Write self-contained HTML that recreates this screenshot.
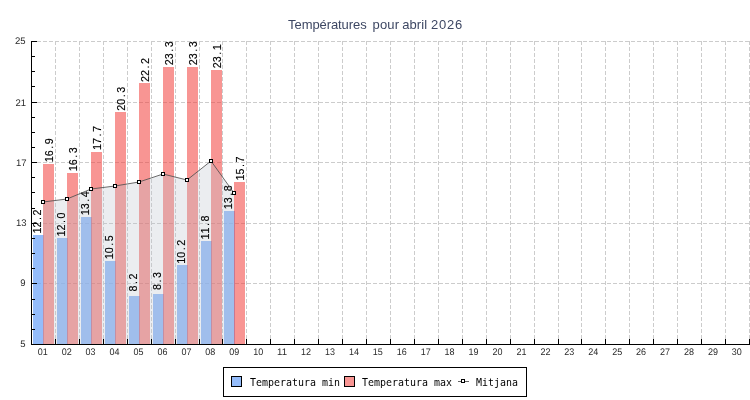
<!DOCTYPE html>
<html lang="ca"><head><meta charset="utf-8"><title>Températures pour abril 2026</title>
<style>html,body{margin:0;padding:0;background:#fff;overflow:hidden}svg{display:block}.t{font-family:"Liberation Sans",sans-serif;font-size:13px;fill:#3d4763}.ax{font-family:"Liberation Sans",sans-serif;font-size:9.5px;fill:#2a2a2a;text-rendering:geometricPrecision}.n{font-family:"Liberation Sans",sans-serif;font-size:11.3px;fill:#000;stroke:#000;stroke-width:0.15px}.m{font-family:"DejaVu Sans Mono","Liberation Mono",monospace;font-size:11px;fill:#000}</style></head><body>
<svg width="750" height="400" viewBox="0 0 750 400">
<rect width="750" height="400" fill="#fff"/>
<text class="t" x="288.1" y="29.3" dx="0.000 -0.093 -0.093 -0.093 -0.093 -0.093 -0.093 -0.093 -0.093 -0.093 -0.093 -0.093 0.000 2.275 0.170 0.170 0.170 0.000 -0.525 0.090 0.090 0.090 0.090 0.000 0.275 0.773 0.773 0.773">Températures pour abril 2026</text>
<g stroke="#cccccc" stroke-width="1" stroke-dasharray="4 2" shape-rendering="crispEdges" fill="none">
<line x1="31" y1="283.5" x2="750" y2="283.5"/>
<line x1="31" y1="223.5" x2="750" y2="223.5"/>
<line x1="31" y1="162.5" x2="750" y2="162.5"/>
<line x1="31" y1="102.5" x2="750" y2="102.5"/>
<line x1="31" y1="41.5" x2="750" y2="41.5"/>
<line x1="55.5" y1="41" x2="55.5" y2="344"/>
<line x1="79.5" y1="41" x2="79.5" y2="344"/>
<line x1="103.5" y1="41" x2="103.5" y2="344"/>
<line x1="127.5" y1="41" x2="127.5" y2="344"/>
<line x1="151.5" y1="41" x2="151.5" y2="344"/>
<line x1="175.5" y1="41" x2="175.5" y2="344"/>
<line x1="199.5" y1="41" x2="199.5" y2="344"/>
<line x1="222.5" y1="41" x2="222.5" y2="344"/>
<line x1="246.5" y1="41" x2="246.5" y2="344"/>
<line x1="270.5" y1="41" x2="270.5" y2="344"/>
<line x1="294.5" y1="41" x2="294.5" y2="344"/>
<line x1="318.5" y1="41" x2="318.5" y2="344"/>
<line x1="342.5" y1="41" x2="342.5" y2="344"/>
<line x1="366.5" y1="41" x2="366.5" y2="344"/>
<line x1="390.5" y1="41" x2="390.5" y2="344"/>
<line x1="414.5" y1="41" x2="414.5" y2="344"/>
<line x1="438.5" y1="41" x2="438.5" y2="344"/>
<line x1="462.5" y1="41" x2="462.5" y2="344"/>
<line x1="486.5" y1="41" x2="486.5" y2="344"/>
<line x1="510.5" y1="41" x2="510.5" y2="344"/>
<line x1="534.5" y1="41" x2="534.5" y2="344"/>
<line x1="558.5" y1="41" x2="558.5" y2="344"/>
<line x1="581.5" y1="41" x2="581.5" y2="344"/>
<line x1="605.5" y1="41" x2="605.5" y2="344"/>
<line x1="629.5" y1="41" x2="629.5" y2="344"/>
<line x1="653.5" y1="41" x2="653.5" y2="344"/>
<line x1="677.5" y1="41" x2="677.5" y2="344"/>
<line x1="701.5" y1="41" x2="701.5" y2="344"/>
<line x1="725.5" y1="41" x2="725.5" y2="344"/>
<line x1="749.5" y1="41" x2="749.5" y2="344"/>
</g>
<g shape-rendering="crispEdges">
<rect x="33" y="234.92" width="11" height="109.08" fill="#70A6F8" fill-opacity="0.75"/>
<rect x="43" y="163.72" width="11" height="180.28" fill="#F23E3B" fill-opacity="0.55"/>
<rect x="57" y="237.95" width="11" height="106.05" fill="#70A6F8" fill-opacity="0.75"/>
<rect x="67" y="172.80" width="11" height="171.20" fill="#F23E3B" fill-opacity="0.55"/>
<rect x="81" y="216.74" width="11" height="127.26" fill="#70A6F8" fill-opacity="0.75"/>
<rect x="91" y="151.59" width="11" height="192.41" fill="#F23E3B" fill-opacity="0.55"/>
<rect x="105" y="260.68" width="11" height="83.32" fill="#70A6F8" fill-opacity="0.75"/>
<rect x="115" y="112.20" width="11" height="231.80" fill="#F23E3B" fill-opacity="0.55"/>
<rect x="129" y="295.52" width="11" height="48.48" fill="#70A6F8" fill-opacity="0.75"/>
<rect x="139" y="83.42" width="11" height="260.58" fill="#F23E3B" fill-opacity="0.55"/>
<rect x="153" y="294.00" width="11" height="50.00" fill="#70A6F8" fill-opacity="0.75"/>
<rect x="163" y="66.75" width="11" height="277.25" fill="#F23E3B" fill-opacity="0.55"/>
<rect x="177" y="265.22" width="11" height="78.78" fill="#70A6F8" fill-opacity="0.75"/>
<rect x="187" y="66.75" width="11" height="277.25" fill="#F23E3B" fill-opacity="0.55"/>
<rect x="201" y="240.98" width="11" height="103.02" fill="#70A6F8" fill-opacity="0.75"/>
<rect x="211" y="69.78" width="11" height="274.22" fill="#F23E3B" fill-opacity="0.55"/>
<rect x="224" y="210.68" width="11" height="133.32" fill="#70A6F8" fill-opacity="0.75"/>
<rect x="234" y="181.90" width="11" height="162.10" fill="#F23E3B" fill-opacity="0.55"/>
</g>
<polygon points="43,344 43,202 67,199 91,189 115,186 139,182 163,174 187,180 211,161 234,193 234,344" fill="#BCC3CD" fill-opacity="0.3"/>
<text class="n" transform="translate(41.4,233.4) rotate(-90) scale(0.95,1)" x="0.02 6.33 14.22 18.96">12.2</text>
<text class="n" transform="translate(53.0,162.2) rotate(-90) scale(0.95,1)" x="0.02 6.33 14.22 18.96">16.9</text>
<text class="n" transform="translate(65.4,236.4) rotate(-90) scale(0.95,1)" x="0.02 6.33 14.22 18.96">12.0</text>
<text class="n" transform="translate(77.0,171.3) rotate(-90) scale(0.95,1)" x="0.02 6.33 14.22 18.96">16.3</text>
<text class="n" transform="translate(89.4,215.2) rotate(-90) scale(0.95,1)" x="0.02 6.33 14.22 18.96">13.4</text>
<text class="n" transform="translate(101.0,150.1) rotate(-90) scale(0.95,1)" x="0.02 6.33 14.22 18.96">17.7</text>
<text class="n" transform="translate(113.4,259.2) rotate(-90) scale(0.95,1)" x="0.02 6.33 14.22 18.96">10.5</text>
<text class="n" transform="translate(125.0,110.7) rotate(-90) scale(0.95,1)" x="0.02 6.33 14.22 18.96">20.3</text>
<text class="n" transform="translate(137.4,291.5) rotate(-90) scale(0.95,1)" x="0.02 7.90 12.65">8.2</text>
<text class="n" transform="translate(149.0,81.9) rotate(-90) scale(0.95,1)" x="0.02 6.33 14.22 18.96">22.2</text>
<text class="n" transform="translate(161.4,290.0) rotate(-90) scale(0.95,1)" x="0.02 7.90 12.65">8.3</text>
<text class="n" transform="translate(173.0,65.3) rotate(-90) scale(0.95,1)" x="0.02 6.33 14.22 18.96">23.3</text>
<text class="n" transform="translate(185.4,263.7) rotate(-90) scale(0.95,1)" x="0.02 6.33 14.22 18.96">10.2</text>
<text class="n" transform="translate(197.0,65.3) rotate(-90) scale(0.95,1)" x="0.02 6.33 14.22 18.96">23.3</text>
<text class="n" transform="translate(209.4,239.5) rotate(-90) scale(0.95,1)" x="0.02 6.33 14.22 18.96">11.8</text>
<text class="n" transform="translate(221.0,68.3) rotate(-90) scale(0.95,1)" x="0.02 6.33 14.22 18.96">23.1</text>
<text class="n" transform="translate(232.4,209.2) rotate(-90) scale(0.95,1)" x="0.02 6.33 14.22 18.96">13.8</text>
<text class="n" transform="translate(244.0,180.4) rotate(-90) scale(0.95,1)" x="0.02 6.33 14.22 18.96">15.7</text>
<polyline points="43,202 67,199 91,189 115,186 139,182 163,174 187,180 211,161 234,193" fill="none" stroke="#505050" stroke-width="0.85"/>
<g shape-rendering="crispEdges">
<rect x="41" y="200" width="4" height="4" fill="#000"/><rect x="42" y="201" width="2" height="2" fill="#fff"/>
<rect x="65" y="197" width="4" height="4" fill="#000"/><rect x="66" y="198" width="2" height="2" fill="#fff"/>
<rect x="89" y="187" width="4" height="4" fill="#000"/><rect x="90" y="188" width="2" height="2" fill="#fff"/>
<rect x="113" y="184" width="4" height="4" fill="#000"/><rect x="114" y="185" width="2" height="2" fill="#fff"/>
<rect x="137" y="180" width="4" height="4" fill="#000"/><rect x="138" y="181" width="2" height="2" fill="#fff"/>
<rect x="161" y="172" width="4" height="4" fill="#000"/><rect x="162" y="173" width="2" height="2" fill="#fff"/>
<rect x="185" y="178" width="4" height="4" fill="#000"/><rect x="186" y="179" width="2" height="2" fill="#fff"/>
<rect x="209" y="159" width="4" height="4" fill="#000"/><rect x="210" y="160" width="2" height="2" fill="#fff"/>
<rect x="232" y="191" width="4" height="4" fill="#000"/><rect x="233" y="192" width="2" height="2" fill="#fff"/>
</g>
<g fill="#000" shape-rendering="crispEdges">
<rect x="31" y="41" width="1" height="304"/>
<rect x="31" y="344" width="719" height="1"/>
<rect x="32" y="344" width="5" height="1"/>
<rect x="32" y="329" width="3" height="1"/>
<rect x="32" y="314" width="3" height="1"/>
<rect x="32" y="299" width="3" height="1"/>
<rect x="32" y="283" width="5" height="1"/>
<rect x="32" y="268" width="3" height="1"/>
<rect x="32" y="253" width="3" height="1"/>
<rect x="32" y="238" width="3" height="1"/>
<rect x="32" y="223" width="5" height="1"/>
<rect x="32" y="208" width="3" height="1"/>
<rect x="32" y="192" width="3" height="1"/>
<rect x="32" y="177" width="3" height="1"/>
<rect x="32" y="162" width="5" height="1"/>
<rect x="32" y="147" width="3" height="1"/>
<rect x="32" y="132" width="3" height="1"/>
<rect x="32" y="117" width="3" height="1"/>
<rect x="32" y="102" width="5" height="1"/>
<rect x="32" y="86" width="3" height="1"/>
<rect x="32" y="71" width="3" height="1"/>
<rect x="32" y="56" width="3" height="1"/>
<rect x="32" y="41" width="5" height="1"/>
<rect x="55" y="339" width="1" height="5"/>
<rect x="79" y="339" width="1" height="5"/>
<rect x="103" y="339" width="1" height="5"/>
<rect x="127" y="339" width="1" height="5"/>
<rect x="151" y="339" width="1" height="5"/>
<rect x="175" y="339" width="1" height="5"/>
<rect x="199" y="339" width="1" height="5"/>
<rect x="222" y="339" width="1" height="5"/>
<rect x="246" y="339" width="1" height="5"/>
<rect x="270" y="339" width="1" height="5"/>
<rect x="294" y="339" width="1" height="5"/>
<rect x="318" y="339" width="1" height="5"/>
<rect x="342" y="339" width="1" height="5"/>
<rect x="366" y="339" width="1" height="5"/>
<rect x="390" y="339" width="1" height="5"/>
<rect x="414" y="339" width="1" height="5"/>
<rect x="438" y="339" width="1" height="5"/>
<rect x="462" y="339" width="1" height="5"/>
<rect x="486" y="339" width="1" height="5"/>
<rect x="510" y="339" width="1" height="5"/>
<rect x="534" y="339" width="1" height="5"/>
<rect x="558" y="339" width="1" height="5"/>
<rect x="581" y="339" width="1" height="5"/>
<rect x="605" y="339" width="1" height="5"/>
<rect x="629" y="339" width="1" height="5"/>
<rect x="653" y="339" width="1" height="5"/>
<rect x="677" y="339" width="1" height="5"/>
<rect x="701" y="339" width="1" height="5"/>
<rect x="725" y="339" width="1" height="5"/>
<rect x="749" y="339" width="1" height="5"/>
</g>
<text class="ax" x="25.5" y="347" text-anchor="end">5</text>
<text class="ax" x="25.5" y="286" text-anchor="end">9</text>
<text class="ax" x="26.5" y="226" text-anchor="end">13</text>
<text class="ax" x="26.5" y="166" text-anchor="end">17</text>
<text class="ax" x="26.0" y="106" text-anchor="end">21</text>
<text class="ax" x="25.5" y="44" text-anchor="end">25</text>
<text class="ax" x="42.8" y="355" text-anchor="middle" textLength="10" lengthAdjust="spacingAndGlyphs">01</text>
<text class="ax" x="66.7" y="355" text-anchor="middle" textLength="10" lengthAdjust="spacingAndGlyphs">02</text>
<text class="ax" x="90.6" y="355" text-anchor="middle" textLength="10" lengthAdjust="spacingAndGlyphs">03</text>
<text class="ax" x="114.6" y="355" text-anchor="middle" textLength="10" lengthAdjust="spacingAndGlyphs">04</text>
<text class="ax" x="138.5" y="355" text-anchor="middle" textLength="10" lengthAdjust="spacingAndGlyphs">05</text>
<text class="ax" x="162.4" y="355" text-anchor="middle" textLength="10" lengthAdjust="spacingAndGlyphs">06</text>
<text class="ax" x="186.4" y="355" text-anchor="middle" textLength="10" lengthAdjust="spacingAndGlyphs">07</text>
<text class="ax" x="210.3" y="355" text-anchor="middle" textLength="10" lengthAdjust="spacingAndGlyphs">08</text>
<text class="ax" x="234.2" y="355" text-anchor="middle" textLength="10" lengthAdjust="spacingAndGlyphs">09</text>
<text class="ax" x="258.2" y="355" text-anchor="middle" textLength="10" lengthAdjust="spacingAndGlyphs">10</text>
<text class="ax" x="282.1" y="355" text-anchor="middle" textLength="10" lengthAdjust="spacingAndGlyphs">11</text>
<text class="ax" x="306.0" y="355" text-anchor="middle" textLength="10" lengthAdjust="spacingAndGlyphs">12</text>
<text class="ax" x="330.0" y="355" text-anchor="middle" textLength="10" lengthAdjust="spacingAndGlyphs">13</text>
<text class="ax" x="353.9" y="355" text-anchor="middle" textLength="10" lengthAdjust="spacingAndGlyphs">14</text>
<text class="ax" x="377.8" y="355" text-anchor="middle" textLength="10" lengthAdjust="spacingAndGlyphs">15</text>
<text class="ax" x="401.8" y="355" text-anchor="middle" textLength="10" lengthAdjust="spacingAndGlyphs">16</text>
<text class="ax" x="425.7" y="355" text-anchor="middle" textLength="10" lengthAdjust="spacingAndGlyphs">17</text>
<text class="ax" x="449.6" y="355" text-anchor="middle" textLength="10" lengthAdjust="spacingAndGlyphs">18</text>
<text class="ax" x="473.6" y="355" text-anchor="middle" textLength="10" lengthAdjust="spacingAndGlyphs">19</text>
<text class="ax" x="497.5" y="355" text-anchor="middle" textLength="10" lengthAdjust="spacingAndGlyphs">20</text>
<text class="ax" x="521.4" y="355" text-anchor="middle" textLength="10" lengthAdjust="spacingAndGlyphs">21</text>
<text class="ax" x="545.4" y="355" text-anchor="middle" textLength="10" lengthAdjust="spacingAndGlyphs">22</text>
<text class="ax" x="569.3" y="355" text-anchor="middle" textLength="10" lengthAdjust="spacingAndGlyphs">23</text>
<text class="ax" x="593.2" y="355" text-anchor="middle" textLength="10" lengthAdjust="spacingAndGlyphs">24</text>
<text class="ax" x="617.2" y="355" text-anchor="middle" textLength="10" lengthAdjust="spacingAndGlyphs">25</text>
<text class="ax" x="641.1" y="355" text-anchor="middle" textLength="10" lengthAdjust="spacingAndGlyphs">26</text>
<text class="ax" x="665.0" y="355" text-anchor="middle" textLength="10" lengthAdjust="spacingAndGlyphs">27</text>
<text class="ax" x="689.0" y="355" text-anchor="middle" textLength="10" lengthAdjust="spacingAndGlyphs">28</text>
<text class="ax" x="712.9" y="355" text-anchor="middle" textLength="10" lengthAdjust="spacingAndGlyphs">29</text>
<text class="ax" x="736.8" y="355" text-anchor="middle" textLength="10" lengthAdjust="spacingAndGlyphs">30</text>
<rect x="223.5" y="367.5" width="303" height="29" fill="#fff" stroke="#000" stroke-width="1" shape-rendering="crispEdges"/>
<rect x="231.5" y="376.5" width="10" height="10" fill="#94BCFA" stroke="#000" stroke-width="1" shape-rendering="crispEdges"/>
<rect x="344.5" y="376.5" width="10" height="10" fill="#F89593" stroke="#000" stroke-width="1" shape-rendering="crispEdges"/>
<text class="m" transform="translate(250,386) scale(0.906,1)">Temperatura min</text>
<text class="m" transform="translate(362,386) scale(0.906,1)">Temperatura max</text>
<text class="m" transform="translate(476,386) scale(0.906,1)">Mitjana</text>
<g shape-rendering="crispEdges"><rect x="458" y="381" width="11" height="1" fill="#666"/><rect x="461" y="379" width="4" height="4" fill="#000"/><rect x="462" y="380" width="2" height="2" fill="#fff"/></g>
</svg></body></html>
